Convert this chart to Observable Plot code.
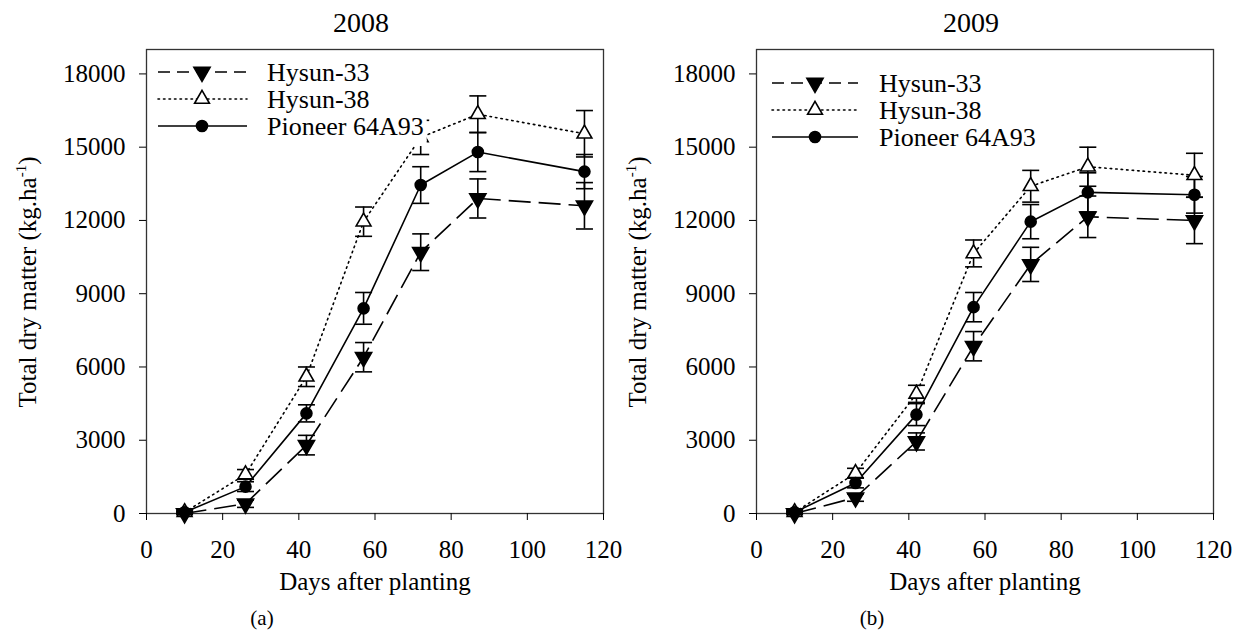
<!DOCTYPE html>
<html>
<head>
<meta charset="utf-8">
<script src="https://cdn.jsdelivr.net/npm/d3@7"></script>
<script src="https://cdn.jsdelivr.net/npm/@observablehq/plot@0.6"></script>
<style>
  html, body { margin: 0; padding: 0; background: white; }
  body { width: 1239px; height: 630px; position: relative; overflow: hidden; font-family: "Liberation Serif", "DejaVu Serif", serif; color: black; }
  .panel { position: absolute; top: 0; }
  .panel svg { background: transparent !important; }
  .txt { position: absolute; white-space: nowrap; line-height: 1; }
  .title { font-size: 28px; transform: translateX(-50%); top: 9px; }
  .sub { font-size: 21px; transform: translateX(-50%); top: 608px; }
  .xlab { font-size: 25px; transform: translateX(-50%); top: 569px; }
  .ylab { font-size: 25px; transform: translate(-50%, -50%) rotate(-90deg); }
  .ylab sup { font-size: 15px; }
</style>
</head>
<body>
<script>
// ---- data ----
const days = [10, 26, 42, 57, 72, 87, 115];
const cultivars = ["Hysun-33", "Hysun-38", "Pioneer 64A93"];
const xTicks = [0, 20, 40, 60, 80, 100, 120];
const yTicks = [0, 3000, 6000, 9000, 12000, 15000, 18000];

const h33_2008 = [0, 400, 2800, 6400, 10700, 12900, 12600];
const h33_2008_err = [50, 150, 400, 600, 750, 800, 950];
const h38_2008 = [50, 1600, 5600, 11950, 15400, 16350, 15550];
const h38_2008_err = [50, 200, 400, 600, 700, 750, 950];
const p_2008 = [50, 1100, 4100, 8400, 13450, 14800, 14000];
const p_2008_err = [50, 200, 350, 650, 750, 800, 700];

const h33_2009 = [0, 650, 2950, 6850, 10200, 12150, 12000];
const h33_2009_err = [50, 150, 350, 600, 700, 850, 950];
const h38_2009 = [50, 1650, 4900, 10650, 13400, 14200, 13850];
const h38_2009_err = [50, 200, 350, 550, 650, 800, 900];
const p_2009 = [50, 1250, 4050, 8450, 11950, 13150, 13050];
const p_2009_err = [50, 200, 450, 600, 700, 800, 750];

const FONT = "'Liberation Serif', 'DejaVu Serif', serif";

const cap = {
  draw(ctx, size) {
    const r = Math.sqrt(size / Math.PI);
    ctx.moveTo(-r, 0); ctx.lineTo(r, 0);
  }
};

const styles = {
  "Hysun-33": {dash: "22,8", legendDash: "12,7", symbol: "triangle", rotate: 180, fill: "black", r: 6},
  "Hysun-38": {dash: "1.5,4", legendDash: "1.5,4", symbol: "triangle", rotate: 0, fill: "white", r: 5.5},
  "Pioneer 64A93": {dash: null, legendDash: null, symbol: "circle", rotate: 0, fill: "black", r: 5.5}
};

function buildRows(vals, errs) {
  const rows = [];
  cultivars.forEach((c, i) => days.forEach((d, j) => rows.push({cultivar: c, day: d, v: vals[i][j], e: errs[i][j]})));
  return rows;
}

function panel(rows) {
  const marks = [
    Plot.frame({stroke: "#333", strokeWidth: 1.3}),
    Plot.axisX({ticks: xTicks, tickSize: 7, tickPadding: 20, fontSize: 25, label: null, tickFormat: d3.format("d")}),
    Plot.axisY({ticks: yTicks, tickSize: 7, tickPadding: 14, fontSize: 25, label: null, tickFormat: d3.format("d")}),
    Plot.ruleX(rows, {x: "day", y1: d => d.v - d.e, y2: d => d.v + d.e, stroke: "black", strokeWidth: 1.6}),
    Plot.dot(rows, {x: "day", y: d => d.v - d.e, symbol: cap, r: 8.5, stroke: "black", strokeWidth: 1.6}),
    Plot.dot(rows, {x: "day", y: d => d.v + d.e, symbol: cap, r: 8.5, stroke: "black", strokeWidth: 1.6})
  ];
  for (const c of cultivars) {
    const s = styles[c];
    const sub = rows.filter(d => d.cultivar === c);
    marks.push(Plot.line(sub, {x: "day", y: "v", stroke: "black", strokeWidth: 1.6, strokeDasharray: s.dash, strokeLinecap: c === "Hysun-38" ? "round" : "butt"}));
  }
  for (const c of cultivars) {
    const s = styles[c];
    const sub = rows.filter(d => d.cultivar === c);
    marks.push(Plot.dot(sub, {x: "day", y: "v", symbol: s.symbol, rotate: s.rotate, r: s.r, fill: s.fill, stroke: "black", strokeWidth: 1.6}));
  }
  return Plot.plot({
    width: 620, height: 600,
    marginLeft: 146, marginRight: 17, marginTop: 49, marginBottom: 87,
    x: {domain: [0, 120]},
    y: {domain: [0, 19000]},
    style: {fontFamily: FONT, color: "black", background: "transparent", overflow: "visible"},
    marks
  });
}

function addLegend(svg, lp) {
  const g = d3.select(svg).append("g").attr("text-anchor", "start");
  const bg = g.append("rect").attr("fill", "white");
  let maxEnd = 0;
  cultivars.forEach((c, i) => {
    const s = styles[c];
    const y = lp.y0 + i * lp.dy;
    g.append("line").attr("x1", lp.x1).attr("x2", lp.x2).attr("y1", y).attr("y2", y)
      .attr("stroke", "black").attr("stroke-width", 1.6)
      .attr("stroke-dasharray", s.legendDash)
      .attr("stroke-linecap", c === "Hysun-38" ? "round" : "butt");
    const sym = d3.symbol(s.symbol === "triangle" ? d3.symbolTriangle : d3.symbolCircle, s.r * s.r * Math.PI);
    g.append("path").attr("d", sym()).attr("transform", `translate(${lp.xm},${y}) rotate(${s.rotate})`)
      .attr("fill", s.fill).attr("stroke", "black").attr("stroke-width", 1.6);
    const t = g.append("text").attr("x", lp.xt).attr("y", y).attr("dy", "0.33em")
      .attr("text-anchor", "start")
      .attr("font-size", 26).attr("font-family", FONT).attr("fill", "black").text(c);
    maxEnd = Math.max(maxEnd, lp.xt + t.node().getComputedTextLength());
  });
  bg.attr("x", 148).attr("y", 51).attr("width", maxEnd + 3 - 148).attr("height", lp.boxBottom - 51);
}

const rows2008 = buildRows([h33_2008, h38_2008, p_2008], [h33_2008_err, h38_2008_err, p_2008_err]);
const rows2009 = buildRows([h33_2009, h38_2009, p_2009], [h33_2009_err, h38_2009_err, p_2009_err]);

const panels = [
  {rows: rows2008, left: 0, title: "2008", sub: "(a)", lp: {y0: 72, dy: 27, x1: 158, x2: 247, xm: 202, xt: 267, boxBottom: 146}},
  {rows: rows2009, left: 610, title: "2009", sub: "(b)", lp: {y0: 83, dy: 27, x1: 162, x2: 248, xm: 205, xt: 269, boxBottom: 152}}
];

function addText(cls, left, top, html) {
  const el = document.createElement("div");
  el.className = "txt " + cls;
  el.style.left = left + "px";
  if (top != null) el.style.top = top + "px";
  el.innerHTML = html;
  document.body.appendChild(el);
}

for (const p of panels) {
  const svg = panel(p.rows);
  const wrap = document.createElement("div");
  wrap.className = "panel";
  wrap.style.left = p.left + "px";
  wrap.appendChild(svg);
  document.body.appendChild(wrap);
  addLegend(svg, p.lp);

  addText("title", p.left + 361, null, p.title);
  addText("sub", p.left + 262, null, p.sub);
  addText("ylab", p.left + 27, 282, "Total dry matter (kg.ha<sup>-1</sup>)");
  addText("xlab", p.left + 375, null, "Days after planting");
}
</script>
</body>
</html>
